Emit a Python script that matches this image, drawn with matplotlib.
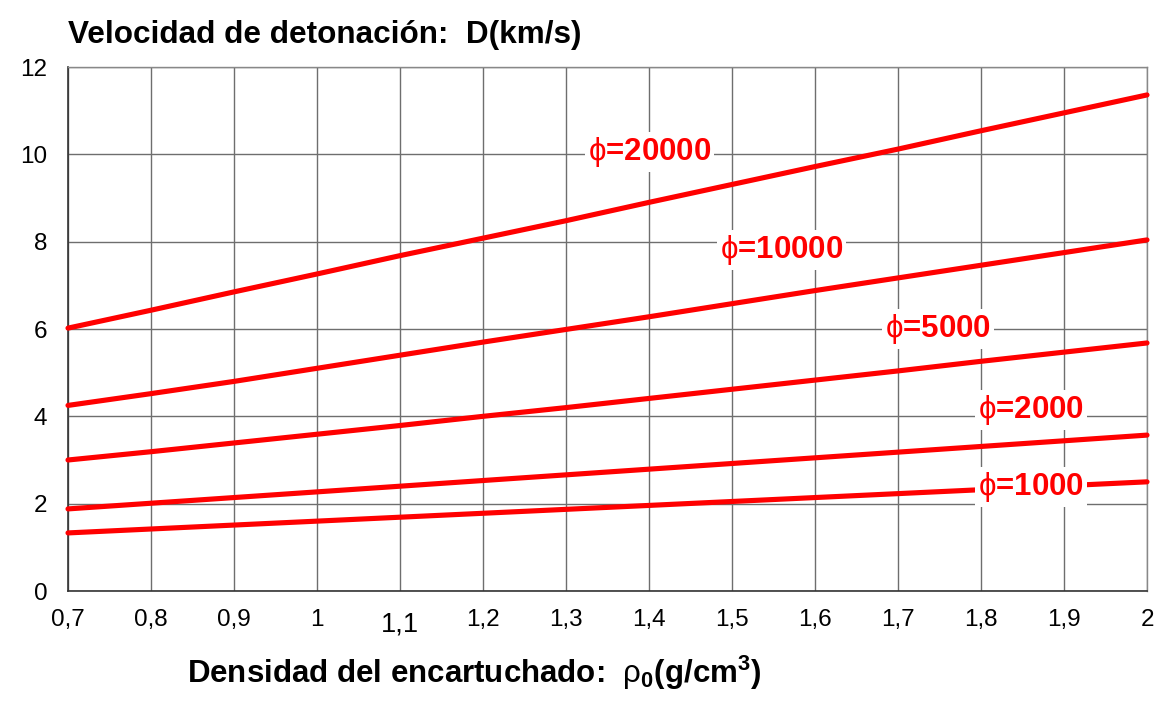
import matplotlib
matplotlib.use("Agg")
import matplotlib.pyplot as plt
import numpy as np

plt.rcParams['font.family'] = ['Liberation Sans', 'DejaVu Sans']
plt.rcParams['mathtext.fontset'] = 'custom'
plt.rcParams['mathtext.rm'] = 'Liberation Sans'
plt.rcParams['mathtext.bf'] = 'Liberation Sans:bold'
plt.rcParams['mathtext.it'] = 'Liberation Sans:italic'
plt.rcParams['mathtext.fallback'] = 'stixsans'

# Data
density = [0.7, 0.8, 0.9, 1.0, 1.1, 1.2, 1.3, 1.4, 1.5, 1.6, 1.7, 1.8, 1.9, 2.0]
D_20000 = [6.02, 6.43, 6.85, 7.26, 7.68, 8.08, 8.48, 8.90, 9.31, 9.72, 10.12, 10.54, 10.95, 11.36]
D_10000 = [4.25, 4.52, 4.80, 5.10, 5.40, 5.70, 5.99, 6.28, 6.58, 6.88, 7.17, 7.46, 7.75, 8.04]
D_5000 = [3.00, 3.19, 3.39, 3.59, 3.79, 4.00, 4.20, 4.41, 4.62, 4.83, 5.04, 5.26, 5.47, 5.68]
D_2000 = [1.88, 2.01, 2.14, 2.27, 2.40, 2.53, 2.66, 2.79, 2.92, 3.05, 3.18, 3.31, 3.44, 3.57]
D_1000 = [1.33, 1.42, 1.51, 1.60, 1.69, 1.78, 1.87, 1.96, 2.05, 2.14, 2.23, 2.32, 2.41, 2.50]
series = [D_20000, D_10000, D_5000, D_2000, D_1000]
labels = ["=20000", "=10000", "=5000", "=2000", "=1000"]
label_x = [1.3265, 1.4855, 1.6843, 1.7964, 1.7964]
label_y = [10.05, 7.81, 6.00, 4.14, 2.38]

x_ticks = [0.7, 0.8, 0.9, 1.0, 1.1, 1.2, 1.3, 1.4, 1.5, 1.6, 1.7, 1.8, 1.9, 2.0]
x_ticklabels = ["0,7", "0,8", "0,9", "1", "1,1", "1,2", "1,3", "1,4", "1,5", "1,6", "1,7", "1,8", "1,9", "2"]
y_ticks = [0, 2, 4, 6, 8, 10, 12]

fig = plt.figure(figsize=(11.72, 7.10), dpi=100)
ax = fig.add_axes([68/1172, 1-591/710, (1147-68)/1172, (591-67)/710])

for s in series:
    ax.plot(density, s, color='#ff0000', lw=3.7, solid_capstyle='round', zorder=3, clip_on=False)

for lx, ly, lab in zip(label_x, label_y, labels):
    ax.text(lx, ly, r"$\mathrm{ϕ}$" + lab, color='#ff0000', fontsize=22.5, fontweight='bold',
            ha='left', va='center', zorder=4,
            bbox=dict(facecolor='white', edgecolor='none', pad=2))

ax.set_xlim(0.7, 2.0)
ax.set_ylim(0, 12)
ax.set_xticks(x_ticks)
ax.set_xticklabels(x_ticklabels)
ax.set_yticks(y_ticks)
ax.tick_params(axis='both', length=0, labelsize=17.5, colors='black')
ax.tick_params(axis='x', pad=13)
ax.tick_params(axis='y', pad=15)
for t in ax.get_xticklabels():
    if t.get_text() == "1,1":
        t.set_fontsize(19.5)
        t.set_y(-0.004)

ax.grid(True, color='#6e6e6e', lw=1.0, zorder=1)
ax.set_axisbelow(True)
for side in ['top', 'right']:
    ax.spines[side].set_color('#888888')
    ax.spines[side].set_linewidth(1.0)
for side in ['left', 'bottom']:
    ax.spines[side].set_color('#333333')
    ax.spines[side].set_linewidth(1.2)

fig.text(68/1172, 1-43/710, "Velocidad de detonación:  D(km/s)", fontsize=22.7,
         fontweight='bold', ha='left', va='baseline')
fig.text(474/1172, 1-683/710,
         r"Densidad del encartuchado:  $\mathrm{ρ}_\mathbf{0}$(g/cm$^\mathbf{3}$)",
         fontsize=22.5, fontweight='bold', ha='center', va='baseline')

fig.savefig("out.png", dpi=100)
